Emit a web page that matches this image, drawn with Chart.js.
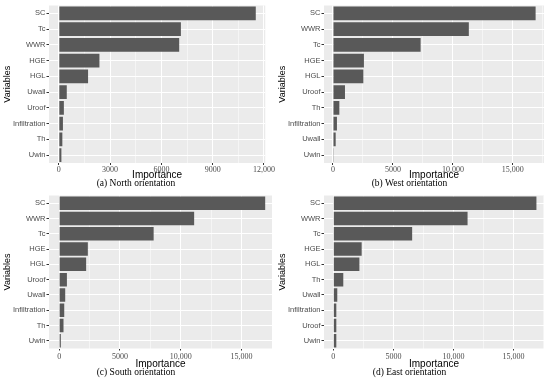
<!DOCTYPE html>
<html>
<head>
<meta charset="utf-8">
<script src="https://cdn.jsdelivr.net/npm/chart.js@4.4.0/dist/chart.umd.min.js"></script>
<style>
body { margin: 0; background: #fff; width: 550px; height: 379px; position: relative; overflow: hidden; }
canvas { position: absolute; }
</style>
</head>
<body>
<canvas id="north" width="275" height="190" style="left:0;top:0"></canvas>
<canvas id="west" width="275" height="190" style="left:275px;top:0"></canvas>
<canvas id="south" width="275" height="189" style="left:0;top:190px"></canvas>
<canvas id="east" width="275" height="189" style="left:275px;top:190px"></canvas>
<script>
// variable importance, one panel per orientation
const northVars = ['SC', 'Tc', 'WWR', 'HGE', 'HGL', 'Uwall', 'Uroof', 'Infiltration', 'Th', 'Uwin'];
const northVals = [11520, 7140, 7040, 2375, 1710, 465, 295, 240, 205, 150];
const westVars = ['SC', 'WWR', 'Tc', 'HGE', 'HGL', 'Uroof', 'Th', 'Infiltration', 'Uwall', 'Uwin'];
const westVals = [16900, 11330, 7310, 2580, 2530, 1000, 530, 330, 225, 60];
const southVars = ['SC', 'WWR', 'Tc', 'HGE', 'HGL', 'Uroof', 'Uwall', 'Infiltration', 'Th', 'Uwin'];
const southVals = [16940, 11100, 7770, 2360, 2220, 640, 500, 420, 360, 140];
const eastVars = ['SC', 'WWR', 'Tc', 'HGE', 'HGL', 'Th', 'Uwall', 'Infiltration', 'Uroof', 'Uwin'];
const eastVals = [16900, 11170, 6560, 2360, 2170, 830, 330, 250, 250, 250];

// x ticks (labelled) and the minor grid lines between them
const northTicks = [0, 3000, 6000, 9000, 12000];
const northMinor = [1500, 4500, 7500, 10500];
const otherTicks = [0, 5000, 10000, 15000];
const otherMinor = [2500, 7500, 12500, 17500];

// grey panel background like ggplot
const panelBg = {
    id: 'panelBg',
    beforeDraw(chart) {
        const a = chart.chartArea;
        const c = chart.ctx;
        c.save();
        c.fillStyle = '#EBEBEB';
        c.fillRect(a.left, a.top, a.right - a.left, a.bottom - a.top);
        c.restore();
    }
};

function fmt(v) {
    return v >= 10000 ? v.toLocaleString('en-US') : String(v);
}

function drawPanel(id, vars, vals, ticks, minor, min, max, caption, L) {
    const all = ticks.concat(minor).sort((a, b) => a - b);
    return new Chart(document.getElementById(id), {
        type: 'bar',
        data: {
            labels: vars,
            datasets: [{
                data: vals,
                backgroundColor: '#595959',
                categoryPercentage: 1,
                barPercentage: 0.88
            }]
        },
        options: {
            indexAxis: 'y',
            responsive: false,
            animation: false,
            devicePixelRatio: 1,
            layout: {padding: L.pad},
            plugins: {
                legend: {display: false},
                tooltip: {enabled: false},
                title: {
                    display: true,
                    position: 'bottom',
                    text: caption,
                    color: '#000',
                    font: {family: 'Liberation Serif', size: 9.5, weight: 'normal', lineHeight: 1},
                    padding: {top: 0, bottom: 2}
                }
            },
            scales: {
                x: {
                    type: 'linear',
                    min: min,
                    max: max,
                    afterBuildTicks: s => { s.ticks = all.map(v => ({value: v})); },
                    afterFit: s => { s.height = L.xh; },
                    ticks: {
                        autoSkip: false,
                        maxRotation: 0,
                        padding: L.tp,
                        color: '#4D4D4D',
                        font: {family: 'Liberation Serif', size: 8},
                        callback: v => ticks.includes(v) ? fmt(v) : ''
                    },
                    grid: {
                        color: '#FFFFFF',
                        lineWidth: c => ticks.includes(c.tick.value) ? 1 : 0.5,
                        tickLength: 2,
                        tickColor: c => ticks.includes(c.tick.value) ? '#333333' : 'rgba(0,0,0,0)'
                    },
                    border: {display: false},
                    title: {
                        display: true,
                        text: 'Importance',
                        color: '#000',
                        font: {family: 'Liberation Sans', size: 10, lineHeight: 1},
                        padding: {top: 0, bottom: -2}
                    }
                },
                y: {
                    afterFit: s => { s.width = 49; },
                    ticks: {
                        padding: 1,
                        color: '#4D4D4D',
                        font: {family: 'Liberation Sans', size: 7.5}
                    },
                    grid: {
                        color: '#FFFFFF',
                        offset: false,
                        tickLength: 2.5,
                        tickColor: '#333333'
                    },
                    border: {display: false},
                    title: {
                        display: true,
                        text: 'Variables',
                        color: '#000',
                        font: {family: 'Liberation Sans', size: 9, lineHeight: 1},
                        padding: {top: 3, bottom: 0}
                    }
                }
            }
        },
        plugins: [panelBg]
    });
}

const topL = {pad: {top: 3, right: 3, left: 0, bottom: 0}, xh: 15.5, tp: 0};
const topR = {pad: {top: 3, right: 6, left: 0, bottom: 0}, xh: 15.5, tp: 0};
const botL = {pad: {top: 0, right: 3, left: 0, bottom: 0}, xh: 19, tp: 1.5};
const botR = {pad: {top: 0, right: 6, left: 0, bottom: 0}, xh: 19, tp: 1.5};

drawPanel('north', northVars, northVals, northTicks, northMinor, -575, 12075, '(a) North orientation', topL);
drawPanel('west', westVars, westVals, otherTicks, otherMinor, -750, 17600, '(b) West orientation', topR);
drawPanel('south', southVars, southVals, otherTicks, otherMinor, -833, 17500, '(c) South orientation', botL);
drawPanel('east', eastVars, eastVals, otherTicks, otherMinor, -775, 17530, '(d) East orientation', botR);
</script>
</body>
</html>
